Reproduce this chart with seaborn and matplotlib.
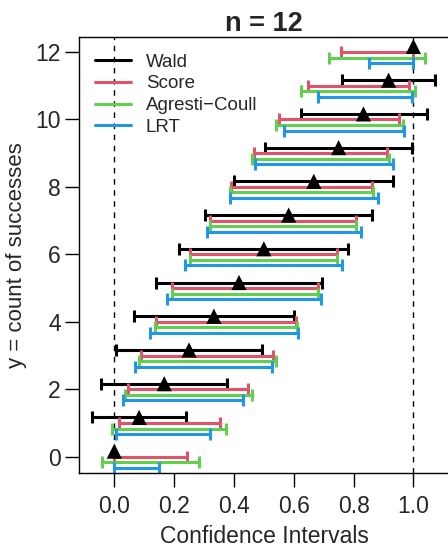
import matplotlib
matplotlib.use("Agg")
import matplotlib.pyplot as plt
import seaborn as sns
import pandas as pd
from matplotlib.lines import Line2D

# count of successes and point estimates (n = 12)
y_count = [0, 1, 2, 3, 4, 5, 6, 7, 8, 9, 10, 11, 12]
p_hat = [0.0, 0.083, 0.167, 0.25, 0.333, 0.417, 0.5, 0.583, 0.667, 0.75, 0.833, 0.917, 1.0]

wald_lo = [0.0, -0.073, -0.044, 0.005, 0.067, 0.138, 0.217, 0.304, 0.400, 0.505, 0.623, 0.760, 1.0]
wald_hi = [0.0, 0.240, 0.378, 0.495, 0.600, 0.696, 0.783, 0.862, 0.933, 0.995, 1.044, 1.073, 1.0]

score_lo = [0.0, 0.015, 0.047, 0.089, 0.138, 0.193, 0.254, 0.320, 0.391, 0.468, 0.552, 0.646, 0.758]
score_hi = [0.242, 0.354, 0.448, 0.532, 0.609, 0.681, 0.746, 0.807, 0.862, 0.911, 0.953, 0.985, 1.0]

ac_lo = [-0.040, -0.007, 0.035, 0.083, 0.136, 0.193, 0.254, 0.319, 0.388, 0.462, 0.540, 0.625, 0.718]
ac_hi = [0.282, 0.375, 0.460, 0.539, 0.612, 0.681, 0.746, 0.807, 0.865, 0.917, 0.965, 1.007, 1.040]

lrt_lo = [0.0, 0.005, 0.030, 0.069, 0.118, 0.175, 0.238, 0.309, 0.387, 0.472, 0.569, 0.682, 0.852]
lrt_hi = [0.148, 0.319, 0.431, 0.528, 0.614, 0.691, 0.762, 0.825, 0.882, 0.931, 0.970, 0.995, 1.0]

methods = ["Wald", "Score", "Agresti\u2212Coull", "LRT"]
colors = ["#000000", "#DF536B", "#61D04F", "#2297E6"]
offsets = [0.165, 0.0, -0.165, -0.33]

sns.set_style("ticks")
plt.rcParams["font.family"] = ["Liberation Sans", "DejaVu Sans"]

fig = plt.figure(figsize=(4.48, 5.48), dpi=100)
ax = fig.add_axes([79 / 448, 75 / 548, 370 / 448, 435.7 / 548])

ax.axvline(0, color="black", lw=1, ls=(0, (4, 4)), zorder=1)
ax.axvline(1, color="black", lw=1, ls=(0, (4, 4)), zorder=1)

intervals = [(wald_lo, wald_hi), (score_lo, score_hi), (ac_lo, ac_hi), (lrt_lo, lrt_hi)]
for (lo, hi), col, off in zip(intervals, colors, offsets):
    for yc, a, b in zip(y_count, lo, hi):
        if a == b:
            continue
        mid = (a + b) / 2
        ax.errorbar(mid, yc + off, xerr=[[mid - a], [b - mid]], fmt="none",
                    ecolor=col, elinewidth=2.2, capsize=4, capthick=2.2, zorder=2)

pts = pd.DataFrame({"p": p_hat, "y": [v + offsets[0] for v in y_count]})
sns.scatterplot(data=pts, x="p", y="y", marker="^", s=120, color="black",
                edgecolor="none", ax=ax, zorder=3)

ax.set_xlim(-0.118, 1.119)
ax.set_ylim(-0.483, 12.436)
ax.set_xticks([0.0, 0.2, 0.4, 0.6, 0.8, 1.0])
ax.set_xticklabels(["0.0", "0.2", "0.4", "0.6", "0.8", "1.0"])
ax.set_yticks([0, 2, 4, 6, 8, 10, 12])
ax.tick_params(length=10, width=1, labelsize=16.5, color="black")
ax.tick_params(axis="x", pad=6)
ax.tick_params(axis="y", pad=3)

for s in ax.spines.values():
    s.set_visible(True)
    s.set_color("black")
    s.set_linewidth(1)

ax.set_xlabel("Confidence Intervals", fontsize=16.5, labelpad=5)
ax.set_ylabel("y = count of successes", fontsize=16, labelpad=6)
ax.set_title("n = 12", fontsize=19.5, fontweight="bold", pad=4)

handles = [Line2D([0], [0], color=c, lw=2.2) for c in colors]
ax.legend(handles, methods, loc="upper left", bbox_to_anchor=(0.0435, 0.963),
          frameon=False, fontsize=13.5, handlelength=1.9, handletextpad=0.8,
          labelspacing=0.25, borderpad=0, borderaxespad=0)

fig.savefig("out.png", dpi=100)
